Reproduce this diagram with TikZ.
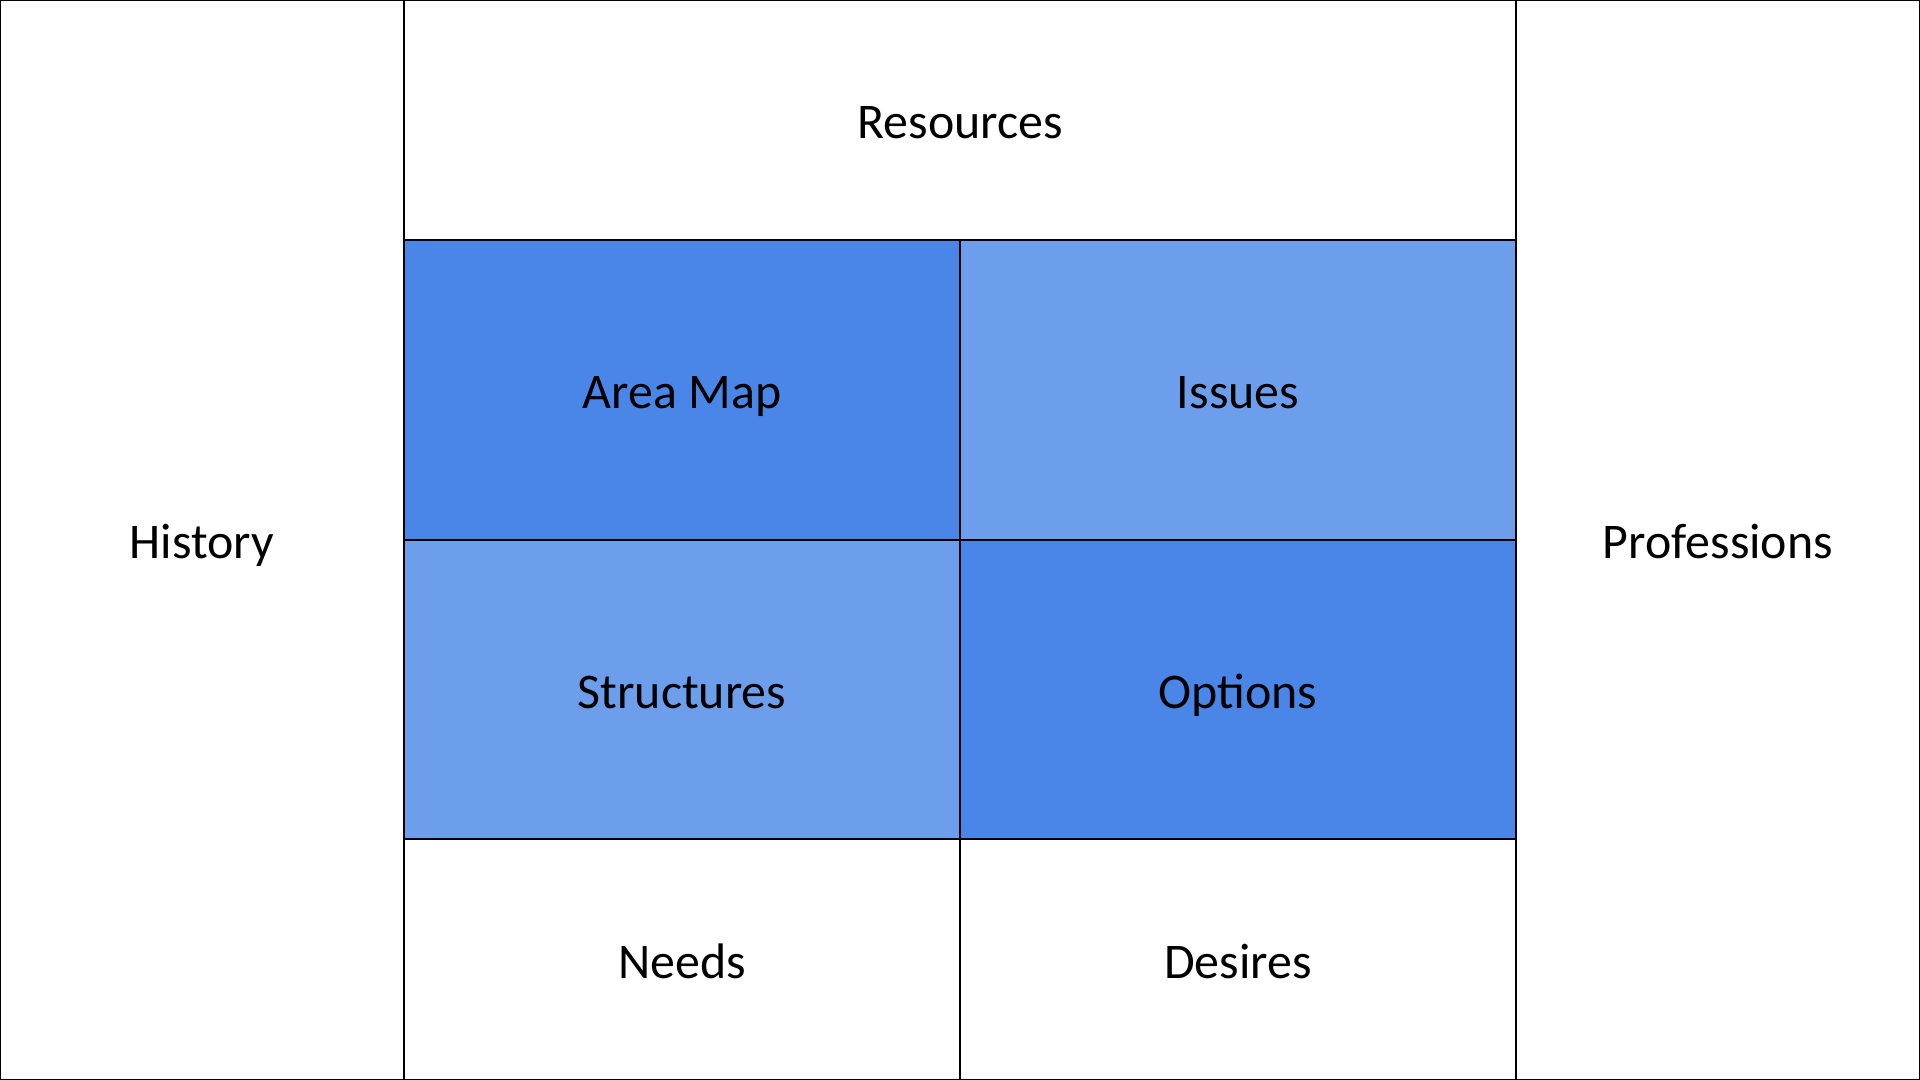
\documentclass[tikz,border=0pt]{standalone}
\usepackage{fontspec}
\setmainfont{Carlito}
\usetikzlibrary{positioning}
\definecolor{darkblue}{HTML}{4A86E8}
\definecolor{lightblue}{HTML}{6D9EEB}
\begin{document}
\begin{tikzpicture}[%
        cell/.style = {%
          draw = black,
          line width = 0.6pt,
          inner sep = 0pt,
          outer sep = 0pt,
          anchor = north west,
          text height = 10.6pt,
          text depth = 0pt,
          font = \fontsize{14.2}{17}\selectfont,
        },
        side/.style = {cell, minimum width = 4.04cm, minimum height = 10.8cm},
        half/.style = {cell, minimum width = 5.56cm},
        dark/.style = {fill = darkblue},
        light/.style = {fill = lightblue},
      ]
      \useasboundingbox (0,0) rectangle (19.2,10.8);
      \node[side] (history)     at (0,10.8)     {History};
      \node[side] (professions) at (15.16,10.8) {Professions};
      \node[cell, minimum width=11.12cm, minimum height=2.4cm] (resources) at (4.04,10.8) {Resources};
      \node[half, dark, minimum height=3cm]   (areamap)    at (4.04,8.4)  {Area Map};
      \node[half, light, minimum height=3cm]  (issues)     at (9.6,8.4)   {Issues};
      \node[half, light, minimum height=2.99cm] (structures) at (4.04,5.4) {Structures};
      \node[half, dark, minimum height=2.99cm]  (options)    at (9.6,5.4)  {Options};
      \node[half, minimum height=2.41cm] (needs)   at (4.04,2.41) {Needs};
      \node[half, minimum height=2.41cm] (desires) at (9.6,2.41)  {Desires};
    \end{tikzpicture}
\end{document}
